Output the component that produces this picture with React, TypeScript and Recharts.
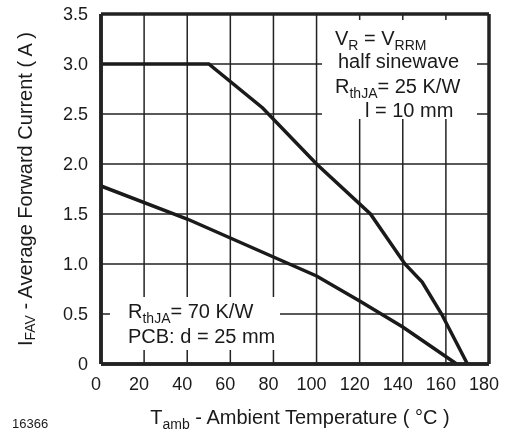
import { LineChart, Line, XAxis, YAxis, CartesianGrid } from "recharts";

// R_thJA = 25 K/W, l = 10 mm
const temps25 = [0, 50, 75, 100, 125, 141, 149, 158, 170];
const current25 = [3.0, 3.0, 2.56, 2.0, 1.5, 1.0, 0.82, 0.5, 0];

// R_thJA = 70 K/W, PCB
const temps70 = [0, 40, 80, 100, 120, 140, 165];
const current70 = [1.78, 1.45, 1.07, 0.88, 0.63, 0.37, 0];

const xTicks = [0, 20, 40, 60, 80, 100, 120, 140, 160, 180];
const yTicks = [0, 0.5, 1.0, 1.5, 2.0, 2.5, 3.0, 3.5];
const xEdges = [0, 180];
const yEdges = [0, 3.5];

// one table on a shared temperature column, gaps bridged with connectNulls
const allTemps = Array.from(new Set([...temps25, ...temps70])).sort((a, b) => a - b);
const data = allTemps.map((t) => {
  const a = temps25.indexOf(t);
  const b = temps70.indexOf(t);
  return { t, i25: a >= 0 ? current25[a] : null, i70: b >= 0 ? current70[b] : null };
});

const FONT = '"Liberation Sans", Arial, Helvetica, sans-serif';
const INK = "#1a1a1a";
const GRID = "#222";

type Part = { t: string; sub?: boolean };

const rich = (parts: Part[], size = 20, subSize = 14) => {
  let inSub = false;
  return parts.map((p, k) => {
    let dy = 0;
    if (p.sub && !inSub) dy = 5;
    if (!p.sub && inSub) dy = -5;
    inSub = !!p.sub;
    return (
      <tspan key={k} dy={dy} fontSize={p.sub ? subSize : size}>
        {p.t}
      </tspan>
    );
  });
};

// titles and notes, laid over the chart (white boxes break the grid behind the notes)
const Overlay = () => (
  <svg
    width={505}
    height={434}
    style={{ position: "absolute", left: 0, top: 0, pointerEvents: "none" }}
    fontFamily={FONT}
    fill={INK}
  >
    <rect x={322} y={20} width={155} height={99} fill="#fff" />
    <rect x={110} y={297} width={170} height={53} fill="#fff" />

    <text x={335} y={45}>
      {rich([{ t: "V" }, { t: "R", sub: true }, { t: " = V" }, { t: "RRM", sub: true }])}
    </text>
    <text x={338} y={68} fontSize={20}>
      half sinewave
    </text>
    <text x={335} y={93}>
      {rich([{ t: "R" }, { t: "thJA", sub: true }, { t: "= 25 K/W" }])}
    </text>
    <text x={365} y={117} fontSize={20}>
      l = 10 mm
    </text>

    <text x={128} y={318}>
      {rich([{ t: "R" }, { t: "thJA", sub: true }, { t: "= 70 K/W" }])}
    </text>
    <text x={128} y={343} fontSize={20}>
      PCB: d = 25 mm
    </text>

    <text x={25} y={189} transform="rotate(-90, 25, 189)" textAnchor="middle" dominantBaseline="central">
      {rich([{ t: "I" }, { t: "FAV", sub: true }, { t: " - Average Forward Current ( A )" }])}
    </text>
    <text x={300} y={424} textAnchor="middle">
      {rich([{ t: "T" }, { t: "amb", sub: true }, { t: " - Ambient Temperature ( °C )" }])}
    </text>
    <text x={12} y={428} fontSize={13}>
      16366
    </text>
  </svg>
);

export default function App() {
  return (
    <div style={{ position: "fixed", left: 0, top: 0, width: 505, height: 434, overflow: "hidden" }}>
      <LineChart width={505} height={434} data={data} margin={{ top: 14, right: 16, bottom: 0, left: 0 }}>
        <CartesianGrid stroke={GRID} strokeWidth={1.5} horizontalValues={yTicks} verticalValues={xTicks} />
        <CartesianGrid stroke={GRID} strokeWidth={3.5} horizontalValues={yEdges} verticalValues={xEdges} />
        <XAxis
          type="number"
          dataKey="t"
          domain={[0, 180]}
          ticks={xTicks}
          height={70}
          stroke={GRID}
          strokeWidth={3.5}
          tickSize={0}
          tickMargin={13}
          tick={{ fontSize: 18, fill: INK, fontFamily: FONT, dx: -5 }}
        />
        <YAxis
          type="number"
          domain={[0, 3.5]}
          ticks={yTicks}
          width={101}
          stroke={GRID}
          strokeWidth={3.5}
          tickSize={0}
          tickMargin={13}
          tick={{ fontSize: 18, fill: INK, fontFamily: FONT }}
          tickFormatter={(v: number) => (v === 0 ? "0" : v.toFixed(1))}
        />
        <Line dataKey="i25" type="linear" connectNulls stroke={INK} strokeWidth={3.5} dot={false} isAnimationActive={false} />
        <Line dataKey="i70" type="linear" connectNulls stroke={INK} strokeWidth={3.5} dot={false} isAnimationActive={false} />
      </LineChart>
      <Overlay />
    </div>
  );
}
